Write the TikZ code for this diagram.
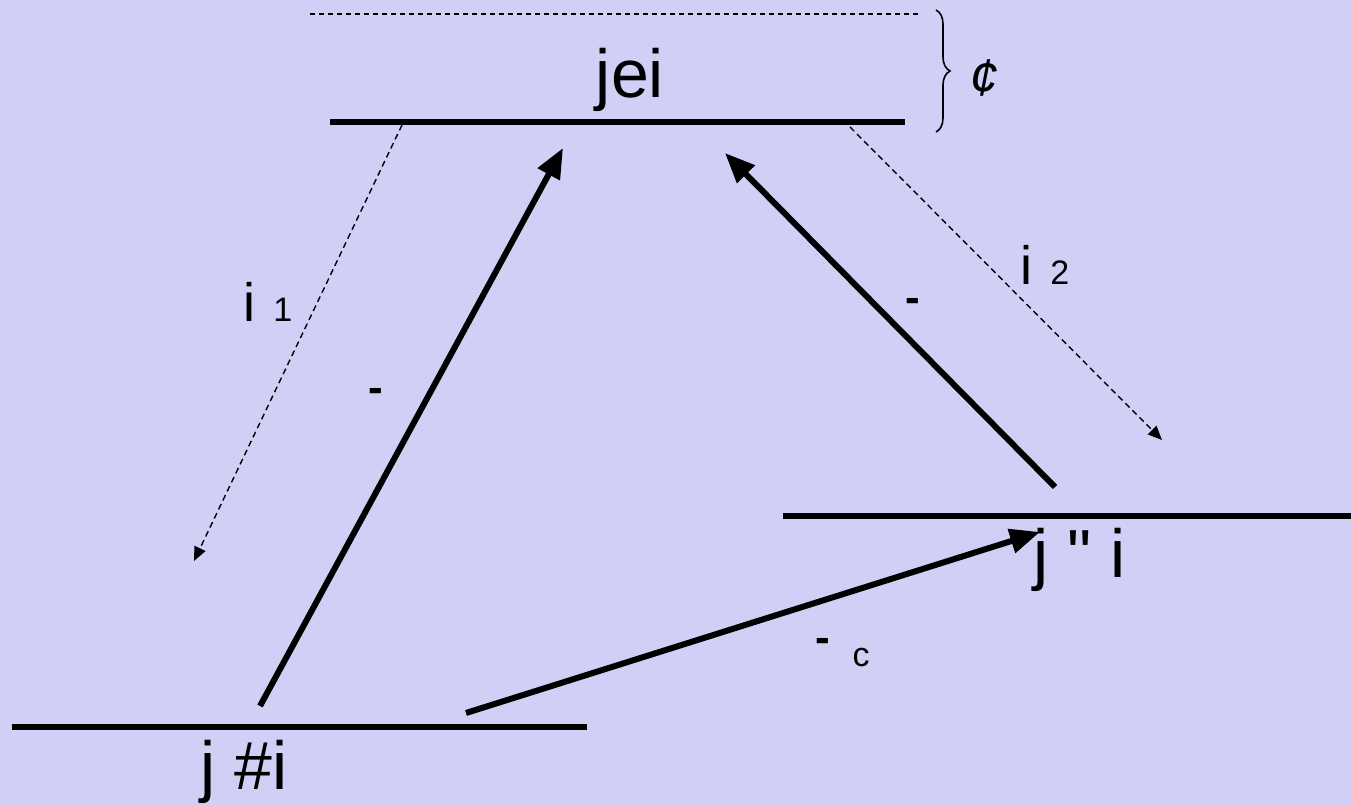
\documentclass[tikz,border=0pt]{standalone}
\usepackage{fontspec}
\setmainfont{Liberation Sans}
\newfontfamily\rawfont{Liberation Sans}
\usetikzlibrary{arrows.meta,decorations.pathreplacing}
\definecolor{bg}{RGB}{208,208,247}
\begin{document}
\begin{tikzpicture}[x=0.5pt,y=-0.5pt,
  level/.style={line width=3.3pt},
  pump/.style={line width=3pt,-{Triangle[length=15pt,width=12pt]}},
  decay/.style={line width=0.7pt,dash pattern=on 3pt off 2pt,-{Triangle[length=7pt,width=6pt]}},
  big/.style={font=\fontsize{34}{34}\selectfont,inner sep=0pt},
  dashlbl/.style={font=\fontsize{22}{22}\selectfont\bfseries,inner sep=0pt}]
\fill[bg] (0,0) rectangle (1351,806);
\useasboundingbox (0,0) rectangle (1351,806);
% levels
\coordinate (eL) at (330,122); \coordinate (eR) at (905,122);
\coordinate (gL) at (12,727);  \coordinate (gR) at (587,727);
\coordinate (sL) at (783,516); \coordinate (sR) at (1351,516);
\draw[level] (eL) -- (eR);
\draw[level] (gL) -- (gR);
\draw[level] (sL) -- (sR);
% top dashed line and brace
\coordinate (tL) at (310,14); \coordinate (tR) at (918,14);
\draw[line width=0.6pt,dash pattern=on 2.5pt off 2pt] (tL) -- (tR);
\coordinate (bT) at (936,10); \coordinate (bB) at (936,132);
\draw[line width=0.8pt,decorate,decoration={brace,amplitude=7pt}] (bT) -- (bB);
\node[font=\fontsize{26}{26}\selectfont\itshape,inner sep=0pt] (delta) at (984,78) {¢};
% labels
\node[big,anchor=base] (le) at (630,98) {jei};
\node[big,anchor=base] (lg) at (244,790) {j \#i};
\node[big,anchor=base] (ls) at (1080,578) {j {\rawfont"} i};
\node[anchor=base west,inner sep=0pt] (g1) at (243,322) {\fontsize{27}{27}\selectfont i\hspace{9pt}\fontsize{17}{17}\selectfont 1};
\node[anchor=base west,inner sep=0pt] (g2) at (1020,285) {\fontsize{27}{27}\selectfont i\hspace{9pt}\fontsize{17}{17}\selectfont 2};
\node[dashlbl] (w1) at (376,395) {-};
\node[dashlbl] (w2) at (913,305) {-};
\node[dashlbl] (wc) at (823,645) {-};
\node[anchor=base,inner sep=0pt,font=\fontsize{17}{17}\selectfont] (c) at (861,667) {c};
% arrows
\coordinate (a1s) at (260,706); \coordinate (a1e) at (563,148);
\coordinate (a2s) at (1055,487); \coordinate (a2e) at (725,153);
\coordinate (a3s) at (466,713); \coordinate (a3e) at (1040,532);
\draw[pump] (a1s) -- (a1e);
\draw[pump] (a2s) -- (a2e);
\draw[pump] (a3s) -- (a3e);
\coordinate (d1s) at (402,125); \coordinate (d1e) at (194,561);
\coordinate (d2s) at (850,127); \coordinate (d2e) at (1162,440);
\draw[decay] (d1s) -- (d1e);
\draw[decay] (d2s) -- (d2e);
\end{tikzpicture}
\end{document}
